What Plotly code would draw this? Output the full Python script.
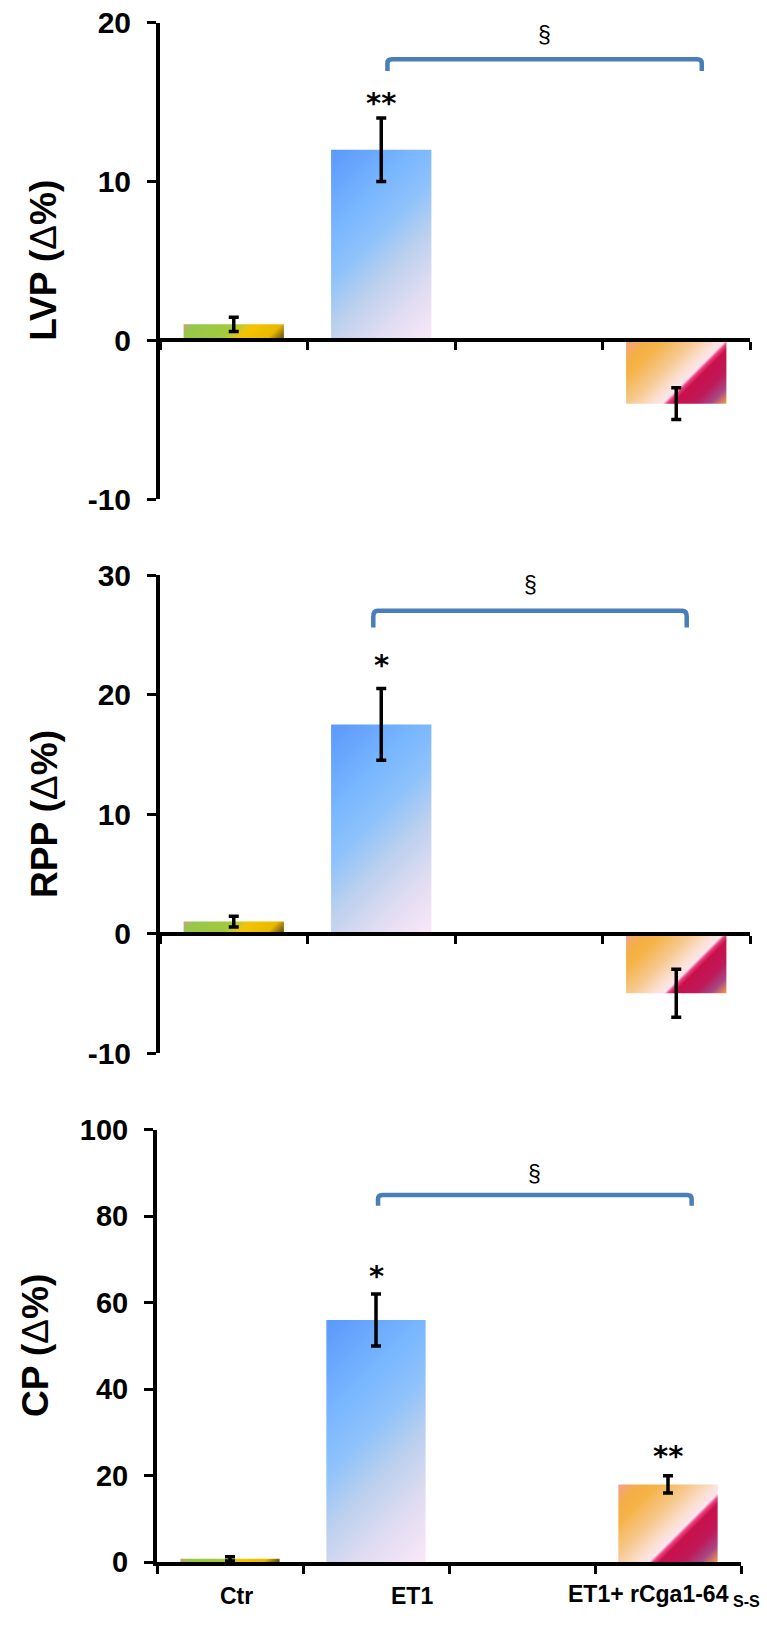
import json
import plotly.graph_objects as go

# ---------------- data ----------------
slots = ["Ctr", "ET1", " ", "ET1+ rCga1-64"]          # " " is the empty 3rd slot of the axis
x_labels = ["Ctr", "ET1", "ET1+ rCga1-64<sub> S-S</sub>"]

lvp_mean = [1.0, 12.0, None, -4.0]
lvp_sem = [0.45, 2.0, None, 1.0]
rpp_mean = [1.0, 17.5, None, -5.0]
rpp_sem = [0.45, 3.0, None, 2.0]
cp_mean = [0.8, 56.0, None, 18.0]
cp_sem = [0.5, 6.0, None, 2.0]

titles = ["LVP", "RPP", "CP"]
y_ranges = [[-10, 20], [-10, 30], [0, 100]]
y_dticks = [10, 10, 20]

# significance marks: slot -> text
stars = [{"ET1": "**"}, {"ET1": "*"}, {"ET1": "*", "ET1+ rCga1-64": "**"}]

# ---------------- layout / style ----------------
W, H = 767, 1629
FONT = "Liberation Sans, Arial, sans-serif"
STAR_FONT = "DejaVu Sans, sans-serif"
BRACKET = "#4a7ebb"

# placeholder bar colours, replaced by SVG gradients after drawing
bar_keys = ["rgb(150,200,70)", "rgb(125,180,250)", "rgb(0,0,0)", "rgb(240,160,90)"]
gradients = {
    "rgb(150,200,70)": [[0, "#c9a07c"], [0.1, "#96c74a"], [0.45, "#a4ca3e"], [0.57, "#e9c415"],
                        [0.62, "#f5c300"], [0.84, "#eab900"], [0.94, "#8a6c12"], [1, "#5c4b10"]],
    "rgb(125,180,250)": [[0, "#5a98fc"], [0.28, "#78b6ff"], [0.45, "#8ec2fb"], [0.62, "#bcd0ee"],
                         [0.8, "#e0dcf2"], [1, "#fbe8f8"]],
    "rgb(240,160,90)": [[0, "#f4a090"], [0.12, "#f4ae48"], [0.22, "#f5b347"], [0.4, "#f7c88c"],
                        [0.56, "#fce2d8"], [0.61, "#fbe4ee"], [0.635, "#e8407c"], [0.67, "#c8104c"],
                        [0.8, "#bf1858"], [0.9, "#a84684"], [1, "#f0a048"]],
}

# pixel geometry of each panel: x-axis span, y pixel of top / bottom of y-range
panel_geo = [
    dict(xpix=(160, 750), ypix=(22.7, 499.0), tick=30, title_x=44,
         star_shift={"ET1": 15}, bracket=(1.042, 3.173, 17.7, 16.95), sect_dy=1.5),
    dict(xpix=(160, 750), ypix=(575.0, 1053.0), tick=30, title_x=44,
         star_shift={"ET1": 24}, bracket=(0.946, 3.071, 27.0, 25.6), sect_dy=2.2),
    dict(xpix=(157, 741), ypix=(1129.7, 1562.3), tick=29, title_x=35,
         star_shift={"ET1": 18, "ET1+ rCga1-64": 20}, bracket=(1.014, 3.162, 84.9, 82.4), sect_dy=4.8),
]

means = [lvp_mean, rpp_mean, cp_mean]
sems = [lvp_sem, rpp_sem, cp_sem]

fig = go.Figure()
annotations = []
shapes = []
layout = {}

for i in range(3):
    n = i + 1
    xa = "x" if n == 1 else f"x{n}"
    ya = "y" if n == 1 else f"y{n}"
    geo = panel_geo[i]
    fig.add_trace(go.Bar(
        x=slots, y=means[i],
        error_y=dict(type="data", array=sems[i], visible=True, color="black",
                     thickness=3.5, width=5),
        marker=dict(color=bar_keys, line=dict(width=0)),
        xaxis=xa, yaxis=ya, showlegend=False, hoverinfo="skip",
    ))
    x0, x1 = geo["xpix"]
    yt, yb = geo["ypix"]
    ydom = [1 - yb / H, 1 - yt / H]
    r0, r1 = y_ranges[i]
    zero_pos = ydom[0] + (0 - r0) / (r1 - r0) * (ydom[1] - ydom[0])
    xkw = dict(domain=[x0 / W, x1 / W], type="category", categoryorder="array",
               categoryarray=slots, range=[-0.5, len(slots) - 0.5], tickson="boundaries",
               ticks="outside", ticklen=8, tickwidth=3, tickcolor="black",
               showticklabels=False, showline=True, linewidth=4, linecolor="black",
               showgrid=False, zeroline=False, fixedrange=True)
    if r0 < 0:
        xkw.update(anchor="free", position=zero_pos)
    else:
        xkw.update(anchor=ya)
    layout["xaxis" if n == 1 else f"xaxis{n}"] = xkw
    tvals = list(range(r0, r1 + 1, y_dticks[i]))
    layout["yaxis" if n == 1 else f"yaxis{n}"] = dict(
        domain=ydom, anchor=xa, range=[r0, r1], tickmode="array", tickvals=tvals,
        ticktext=[str(v) for v in tvals], ticks="outside", ticklen=9, tickwidth=3,
        tickcolor="black", showline=True, linewidth=4, linecolor="black", showgrid=False,
        zeroline=False, ticklabelstandoff=10, fixedrange=True,
        tickfont=dict(family=FONT, size=geo["tick"], color="black", weight="bold"))

    # y title (Δ drawn in regular weight, as in the reference)
    title_txt = titles[i] + " (<span style='font-weight:normal'>Δ</span>%)"
    annotations.append(dict(text=title_txt, textangle=-90, xref="paper", x=geo["title_x"] / W,
                            yref=f"{ya} domain", y=0.5, xanchor="center", yanchor="middle",
                            showarrow=False,
                            font=dict(family=FONT, size=37, color="black", weight="bold")))
    # significance stars (placed above the error bar tops)
    for cat, txt in stars[i].items():
        k = slots.index(cat)
        top = means[i][k] + sems[i][k]
        annotations.append(dict(text=txt, xref=xa, yref=ya, x=k, y=top, xanchor="center",
                                yanchor="middle", yshift=geo["star_shift"][cat], showarrow=False,
                                font=dict(family=STAR_FONT, size=29, color="black", weight="bold")))
    # bracket + section sign
    xl, xr, ytop, ybot = geo["bracket"]
    rx = 0.03
    ry = (ytop - ybot) * 0.35
    path = (f"M {xl},{ybot} L {xl},{ytop - ry} Q {xl},{ytop} {xl + rx},{ytop} "
            f"L {xr - rx},{ytop} Q {xr},{ytop} {xr},{ytop - ry} L {xr},{ybot}")
    shapes.append(dict(type="path", path=path, xref=xa, yref=ya,
                       line=dict(color=BRACKET, width=4.5)))
    annotations.append(dict(text="§", xref=xa, yref=ya, x=(xl + xr) / 2, y=ytop + geo["sect_dy"],
                            xanchor="center", yanchor="middle", showarrow=False,
                            font=dict(family=FONT, size=23, color="black")))

# x category labels under the bottom panel
label_shift = [6, 36, -4]
label_slots = [0, 1, 3]
for lab, k, dx in zip(x_labels, label_slots, label_shift):
    annotations.append(dict(text=lab, xref="x3", yref="y3 domain", x=k, y=-0.077, xshift=dx,
                            xanchor="center", yanchor="middle", showarrow=False,
                            font=dict(family=FONT, size=23, color="black", weight="bold")))

fig.update_layout(width=W, height=H, margin=dict(l=0, r=0, t=0, b=0, autoexpand=False),
                  paper_bgcolor="white", plot_bgcolor="white", bargap=0.32,
                  annotations=annotations, shapes=shapes, hovermode=False, **layout)

js = """
document.body.style.margin = '0';
document.body.style.padding = '0';
var gd = document.getElementById('{plot_id}');
var NS = 'http://www.w3.org/2000/svg';
var GR = """ + json.dumps({k.replace(" ", ""): v for k, v in gradients.items()}) + """;
var defs = gd.querySelector('svg.main-svg defs');
var n = 0;
gd.querySelectorAll('.barlayer .point path').forEach(function(p){
  var f = (p.style.fill || '').replace(/\\s/g, '');
  var stops = GR[f];
  if(!stops) return;
  var bb = p.getBBox();
  var s = (bb.width + bb.height) / 2;
  var g = document.createElementNS(NS, 'linearGradient');
  var id = 'bargrad' + (n++);
  g.setAttribute('id', id);
  g.setAttribute('gradientUnits', 'userSpaceOnUse');
  g.setAttribute('x1', bb.x); g.setAttribute('y1', bb.y);
  g.setAttribute('x2', bb.x + s); g.setAttribute('y2', bb.y + s);
  stops.forEach(function(st){
    var e = document.createElementNS(NS, 'stop');
    e.setAttribute('offset', st[0]);
    e.setAttribute('stop-color', st[1]);
    g.appendChild(e);
  });
  defs.appendChild(g);
  p.style.fill = 'url(#' + id + ')';
});
"""

fig.write_html("out.html", post_script=js, config={"displayModeBar": False})
